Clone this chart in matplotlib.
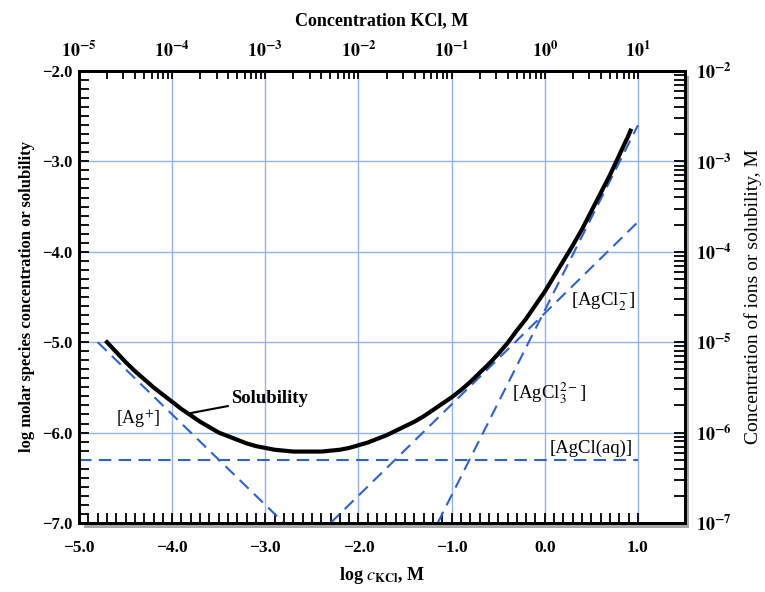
import numpy as np
import matplotlib
matplotlib.use('Agg')
import matplotlib.pyplot as plt
from matplotlib.patches import Rectangle

plt.rcParams['font.family'] = ['Liberation Serif', 'DejaVu Serif']
plt.rcParams['mathtext.fontset'] = 'stix'

# solubility curve (log c_KCl vs log solubility)
log_c = [-4.7, -4.6, -4.5, -4.4, -4.3, -4.2, -4.1, -4.0, -3.9, -3.8, -3.7, -3.6,
         -3.5, -3.4, -3.3, -3.2, -3.1, -3.0, -2.9, -2.8, -2.7, -2.6, -2.5, -2.4,
         -2.3, -2.2, -2.1, -2.0, -1.9, -1.8, -1.7, -1.6, -1.5, -1.4, -1.3, -1.2,
         -1.1, -1.0, -0.9, -0.8, -0.7, -0.6, -0.5, -0.4, -0.3, -0.2, -0.1, 0.0,
         0.1, 0.2, 0.3, 0.4, 0.5, 0.6, 0.7, 0.8, 0.9, 0.92]
log_s = [-5.0, -5.11, -5.22, -5.32, -5.41, -5.5, -5.58, -5.66, -5.74, -5.81, -5.88, -5.94,
         -6.0, -6.04, -6.08, -6.12, -6.15, -6.17, -6.19, -6.2, -6.21, -6.21, -6.21, -6.21,
         -6.2, -6.19, -6.17, -6.14, -6.11, -6.07, -6.03, -5.98, -5.93, -5.88, -5.82, -5.75,
         -5.68, -5.61, -5.53, -5.44, -5.34, -5.24, -5.13, -5.01, -4.87, -4.74, -4.59, -4.44,
         -4.27, -4.1, -3.93, -3.75, -3.55, -3.35, -3.15, -2.93, -2.71, -2.66]

# species lines (end points)
ag_x, ag_y = [-4.8, -2.8], [-5.0, -7.0]
aq_x, aq_y = [-5.0, 1.0], [-6.3, -6.3]
agcl2_x, agcl2_y = [-2.3, 1.0], [-7.0, -3.67]
agcl3_x, agcl3_y = [-1.15, 1.0], [-7.0, -2.6]

bottom_ticks = [-5.0, -4.0, -3.0, -2.0, -1.0, 0.0, 1.0]
left_ticks = [-7.0, -6.0, -5.0, -4.0, -3.0, -2.0]
top_decades = [-5, -4, -3, -2, -1, 0, 1]
right_decades = [-7, -6, -5, -4, -3, -2]

blue = '#2f62c8'
grid_blue = '#93b3ec'

fig = plt.figure(figsize=(7.65, 5.92), dpi=100)
rect = [0.1033, 0.1166, 0.7915, 0.7635]
# drop shadow behind the frame
fig.patches.append(Rectangle((rect[0] + 0.006, rect[1] - 0.008), rect[2], rect[3],
                             transform=fig.transFigure, facecolor='#a8a8a8',
                             edgecolor='none', zorder=-5))
ax = fig.add_axes(rect)
ax.set_facecolor('white')

ax.set_xlim(-5.0, 1.5)
ax.set_ylim(-7.0, -2.0)

for v in bottom_ticks[1:]:
    ax.axvline(v, color=grid_blue, lw=1.0, zorder=1)
for v in left_ticks[1:-1]:
    ax.axhline(v, color=grid_blue, lw=1.0, zorder=1)

dash = (0, (6, 3.5))
ax.plot(ag_x, ag_y, color=blue, lw=1.5, linestyle=dash, zorder=2)
ax.plot(aq_x, aq_y, color=blue, lw=1.5, linestyle=dash, zorder=2)
ax.plot(agcl2_x, agcl2_y, color=blue, lw=1.5, linestyle=dash, zorder=2)
ax.plot(agcl3_x, agcl3_y, color=blue, lw=1.5, linestyle=dash, zorder=2)
ax.plot(log_c, log_s, color='black', lw=3.0, zorder=3, solid_joinstyle='round')

# annotations
ax.annotate('Solubility', xy=(-3.83, -5.79), xytext=(-3.37, -5.62),
            fontsize=13.5, fontweight='bold', ha='left', va='center',
            arrowprops=dict(arrowstyle='-', color='black', lw=1.5,
                            shrinkA=0, shrinkB=0))
ax.text(-4.37, -5.86, '[Ag$^{+}$]', fontsize=13, ha='center', va='center')
ax.text(0.62, -4.55, '[AgCl$_2^{-}$]', fontsize=13.5, ha='center', va='center')
ax.text(0.05, -5.56, '[AgCl$_3^{2-}$]', fontsize=13.5, ha='center', va='center')
ax.text(0.50, -6.17, '[AgCl(aq)]', fontsize=13.5, ha='center', va='center')

# bottom / left axes
ax.set_xticks(bottom_ticks)
ax.set_xticklabels([f'{v:.1f}'.replace('-', '\u2212') for v in bottom_ticks],
                   fontsize=12.5, fontweight='bold')
ax.set_xticks(np.arange(-5.0, 1.001, 0.1), minor=True)
ax.set_yticks(left_ticks)
ax.set_yticklabels([f'{v:.1f}'.replace('-', '\u2212') for v in left_ticks],
                   fontsize=12, fontweight='bold')
ax.set_yticks(np.arange(-7.0, -1.999, 0.1), minor=True)
ax.tick_params(axis='both', which='both', direction='in', width=1.3, color='black')
ax.tick_params(axis='x', which='both', length=7, pad=12, top=False)
ax.tick_params(axis='y', which='both', length=7, pad=5, right=False)

ax.set_xlabel(r'log $c_{\mathbf{KCl}}$, M', fontsize=13, fontweight='bold', labelpad=7)
ax.set_ylabel('log molar species concentration or solubility', fontsize=12,
              fontweight='bold', labelpad=5)

# top axis: concentration KCl
ax_top = ax.twiny()
ax_top.set_xlim(ax.get_xlim())
ax_top.set_xticks(top_decades)
ax_top.set_xticklabels([f'$\\mathbf{{10^{{{d}}}}}$' for d in top_decades], fontsize=13)
ax_top.set_xticks([d + np.log10(k) for d in top_decades[:-1] for k in range(2, 10)],
                  minor=True)
ax_top.tick_params(axis='x', which='both', direction='in', length=6, width=1.3, pad=7)
ax_top.set_xlabel('Concentration KCl, M', fontsize=13, fontweight='bold', labelpad=11)

# right axis: concentration of ions
ax_r = ax.twinx()
ax_r.set_ylim(ax.get_ylim())
ax_r.set_yticks(right_decades)
ax_r.set_yticklabels([f'$\\mathbf{{10^{{{d}}}}}$' for d in right_decades], fontsize=13)
ax_r.set_yticks([d + np.log10(k) for d in right_decades[:-1] for k in range(2, 10)],
                minor=True)
ax_r.tick_params(axis='y', which='both', direction='in', length=8, width=1.3, pad=8)
ax_r.set_ylabel('Concentration of ions or solubility, M', fontsize=14, labelpad=9)

for a in (ax, ax_top, ax_r):
    for s in a.spines.values():
        s.set_linewidth(2.0)
        s.set_color('black')

fig.savefig('out.png', dpi=100, facecolor='white')
